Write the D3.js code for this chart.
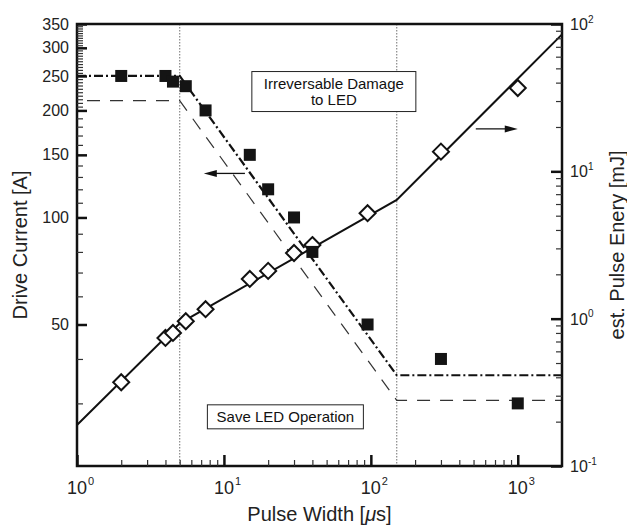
<!DOCTYPE html>
<html>
<head>
<meta charset="utf-8">
<script src="https://cdn.jsdelivr.net/npm/d3@7"></script>
<style>
  html, body { margin: 0; padding: 0; background: #fff; }
  svg { display: block; font-family: "Liberation Sans", Arial, Helvetica, sans-serif; }
</style>
</head>
<body>
<svg id="chart" width="627" height="526"></svg>
<script>
// ---------- data ----------
const pulseWidth   = [2, 4, 4.5, 5.5, 7.5, 15, 20, 30, 40, 95, 300, 1000];      // µs
const driveCurrent = [250, 250, 241, 234, 200, 150, 120, 100, 80, 50, 40, 30];  // A
const pulseEnergy  = [0.37, 0.74, 0.80, 0.96, 1.16, 1.86, 2.11, 2.79, 3.16, 5.2, 13.6, 36.8]; // mJ

const fitWidth        = [1, 5, 150, 2000];
const fitCurrentUpper = [250, 250, 36, 36];     // dash-dot
const fitCurrentLower = [213, 213, 30.6, 30.6]; // dashed
const fitEnergy       = [0.19, 0.93, 6.4, 85];  // solid

const boundaryWidths = [5, 150];

const xMajorTicks = [1, 10, 100, 1000];
const xTickExps   = ["0", "1", "2", "3"];
const leftMajorTicks = [50, 100, 150, 200, 250, 300, 350];
const leftMinorTicks = [30, 40, 60, 70, 80, 90, 110, 120, 130, 140, 160, 170, 180, 190,
  205, 210, 215, 220, 225, 230, 235, 240, 245, 255, 260, 265, 270, 275, 280, 285, 290, 295,
  305, 310, 315, 320, 325, 330, 335, 340, 345];
const rightMajorTicks = [0.1, 1, 10, 100];
const rightTickExps   = ["-1", "0", "1", "2"];

// annotations (data coordinates: width µs, current A / energy mJ)
const damageText = ["Irreversable Damage", "to LED"];
const damageAnchor = {x: 56, current: 226};
const safeText = "Save LED Operation";
const safeAnchor = {x: 26.2, current: 27.5};
const leftArrow  = {from: 13.9, to: 7.3, current: 133};
const rightArrow = {from: 518, to: 1000, energy: 19.4};

// ---------- scales ----------
const svg = d3.select("#chart");
const x  = d3.scaleLog().domain([1, 2000]).range([77, 562]);
const yL = d3.scaleLog().domain([20, 350]).range([466, 24]);
const yR = d3.scaleLog().domain([0.1, 100]).range([466, 24]);
const [x0, x1] = x.range();
const [yb, yt] = yL.range();

// minor ticks for log axes
const logMinor = (lo, hi) => {
  const out = [];
  for (let e = Math.floor(Math.log10(lo)); e <= Math.ceil(Math.log10(hi)); e++) {
    for (let m = 2; m <= 9; m++) {
      const v = m * Math.pow(10, e);
      if (v > lo && v < hi) out.push(v);
    }
  }
  return out;
};

// ---------- boundary dotted lines ----------
svg.append("g").selectAll("line").data(boundaryWidths).join("line")
  .attr("x1", d => x(d)).attr("x2", d => x(d))
  .attr("y1", yt).attr("y2", yb)
  .attr("stroke", "#888").attr("stroke-width", 1.2)
  .attr("stroke-dasharray", "1.5,1.5");

// ---------- fit lines ----------
const lineL = d3.line().x(d => x(d[0])).y(d => yL(d[1]));
const lineR = d3.line().x(d => x(d[0])).y(d => yR(d[1]));

svg.append("path")
  .attr("d", lineL(fitWidth.map((w, i) => [w, fitCurrentLower[i]])))
  .attr("fill", "none").attr("stroke", "#333").attr("stroke-width", 1.2)
  .attr("stroke-dasharray", "13,10").attr("stroke-dashoffset", 13);

svg.append("path")
  .attr("d", lineL(fitWidth.map((w, i) => [w, fitCurrentUpper[i]])))
  .attr("fill", "none").attr("stroke", "#111").attr("stroke-width", 2.2)
  .attr("stroke-dasharray", "9,3,2,3");

svg.append("path")
  .attr("d", lineR(fitWidth.map((w, i) => [w, fitEnergy[i]])))
  .attr("fill", "none").attr("stroke", "#111").attr("stroke-width", 2);

// ---------- markers ----------
const dh = 8;
svg.append("g").selectAll("path").data(pulseWidth.map((w, i) => [w, pulseEnergy[i]])).join("path")
  .attr("d", d => {
    const cx = x(d[0]), cy = yR(d[1]);
    return `M${cx},${cy - dh}L${cx + dh},${cy}L${cx},${cy + dh}L${cx - dh},${cy}Z`;
  })
  .attr("fill", "#fff").attr("stroke", "#111").attr("stroke-width", 2);

const sq = 12;
svg.append("g").selectAll("rect").data(pulseWidth.map((w, i) => [w, driveCurrent[i]])).join("rect")
  .attr("x", d => x(d[0]) - sq / 2).attr("y", d => yL(d[1]) - sq / 2)
  .attr("width", sq).attr("height", sq).attr("fill", "#141414");

// ---------- arrows ----------
function arrow(xFrom, xTo, yPix) {
  const g = svg.append("g");
  const dir = Math.sign(xTo - xFrom);
  g.append("line").attr("x1", xFrom).attr("x2", xTo - dir * 10).attr("y1", yPix).attr("y2", yPix)
    .attr("stroke", "#111").attr("stroke-width", 1.3);
  g.append("path")
    .attr("d", `M${xTo},${yPix}L${xTo - dir * 13},${yPix - 3.5}L${xTo - dir * 13},${yPix + 3.5}Z`)
    .attr("fill", "#111");
}
arrow(x(leftArrow.from), x(leftArrow.to), yL(leftArrow.current));
arrow(x(rightArrow.from), x(rightArrow.to), yR(rightArrow.energy));

// ---------- annotation boxes ----------
function textBox(lines, cx, cy, w, h, lineH) {
  const g = svg.append("g");
  g.append("rect").attr("x", cx - w / 2).attr("y", cy - h / 2).attr("width", w).attr("height", h)
    .attr("fill", "#fff").attr("stroke", "#222").attr("stroke-width", 1);
  const t = g.append("text").attr("text-anchor", "middle").attr("font-size", 15).attr("fill", "#111");
  const n = lines.length;
  lines.forEach((s, i) => {
    t.append("tspan").attr("x", cx)
      .attr("y", cy + (i - (n - 1) / 2) * lineH + 5.3).text(s);
  });
}
textBox(damageText, x(damageAnchor.x), yL(damageAnchor.current), 164, 40, 16);
textBox([safeText], x(safeAnchor.x), yL(safeAnchor.current), 156, 24, 16);

// ---------- frame ----------
svg.append("rect").attr("x", x0).attr("y", yt).attr("width", x1 - x0).attr("height", yb - yt)
  .attr("fill", "none").attr("stroke", "#111").attr("stroke-width", 2.5);

// ---------- left axis ----------
const leftMajor = d3.axisLeft(yL).tickValues(leftMajorTicks).tickSize(-10).tickPadding(8)
  .tickFormat(d3.format("d"));
const gl = svg.append("g").attr("transform", `translate(${x0},0)`).call(leftMajor);
gl.select(".domain").remove();
gl.selectAll("line").attr("stroke", "#111").attr("stroke-width", 2.5);
gl.selectAll("text").attr("font-size", 16).attr("fill", "#222");

const leftMinor = d3.axisLeft(yL).tickValues(leftMinorTicks).tickSize(-6).tickFormat("");
const glm = svg.append("g").attr("transform", `translate(${x0},0)`).call(leftMinor);
glm.select(".domain").remove();
glm.selectAll("line").attr("stroke", "#333").attr("stroke-width", 1.2);

// ---------- bottom axis ----------
const bottomMajor = d3.axisBottom(x).tickValues(xMajorTicks).tickSize(-11).tickFormat("");
const gb = svg.append("g").attr("transform", `translate(0,${yb})`).call(bottomMajor);
gb.select(".domain").remove();
gb.selectAll("line").attr("stroke", "#111").attr("stroke-width", 2.5);

const bottomMinor = d3.axisBottom(x).tickValues(logMinor(1, 2000)).tickSize(-6).tickFormat("");
const gbm = svg.append("g").attr("transform", `translate(0,${yb})`).call(bottomMinor);
gbm.select(".domain").remove();
gbm.selectAll("line").attr("stroke", "#333").attr("stroke-width", 1.2);

const bl = svg.append("g").attr("fill", "#222");
xMajorTicks.forEach((v, i) => {
  bl.append("text").attr("x", x(v)).attr("y", yb + 28).attr("text-anchor", "middle")
    .attr("font-size", 18).text("10");
  bl.append("text").attr("x", x(v) + 11).attr("y", yb + 19).attr("text-anchor", "start")
    .attr("font-size", 11).text(xTickExps[i]);
});

// ---------- right axis ----------
const rightMajor = d3.axisRight(yR).tickValues(rightMajorTicks).tickSize(-11).tickFormat("");
const gr = svg.append("g").attr("transform", `translate(${x1},0)`).call(rightMajor);
gr.select(".domain").remove();
gr.selectAll("line").attr("stroke", "#111").attr("stroke-width", 2.5);

const rightMinor = d3.axisRight(yR).tickValues(logMinor(0.1, 100)).tickSize(-6).tickFormat("");
const grm = svg.append("g").attr("transform", `translate(${x1},0)`).call(rightMinor);
grm.select(".domain").remove();
grm.selectAll("line").attr("stroke", "#333").attr("stroke-width", 1.2);

const rl = svg.append("g").attr("fill", "#222");
rightMajorTicks.forEach((v, i) => {
  rl.append("text").attr("x", x1 + 8).attr("y", yR(v) + 6).attr("font-size", 16).text("10");
  rl.append("text").attr("x", x1 + 26).attr("y", yR(v) - 1.5).attr("font-size", 10).text(rightTickExps[i]);
});

// ---------- axis titles ----------
const midY = (yt + yb) / 2;
svg.append("text").attr("transform", `translate(27,${midY}) rotate(-90)`)
  .attr("text-anchor", "middle").attr("font-size", 20).attr("fill", "#222").text("Drive Current [A]");
svg.append("text").attr("transform", `translate(624,${midY}) rotate(-90)`)
  .attr("text-anchor", "middle").attr("font-size", 20).attr("fill", "#222").text("est. Pulse Enery [mJ]");
const xt = svg.append("text").attr("x", (x0 + x1) / 2).attr("y", 521)
  .attr("text-anchor", "middle").attr("font-size", 20).attr("fill", "#222");
xt.append("tspan").text("Pulse Width [");
xt.append("tspan").attr("font-style", "italic").text("\u03bc");
xt.append("tspan").text("s]");
</script>
</body>
</html>
